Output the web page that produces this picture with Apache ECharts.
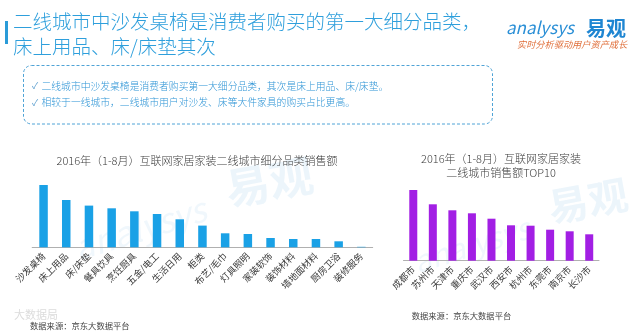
<!DOCTYPE html>
<html>
<head>
<meta charset="utf-8">
<script src="https://cdn.jsdelivr.net/npm/echarts@6/dist/echarts.min.js"></script>
<style>
html,body{margin:0;padding:0;background:#fff;}
#c{width:640px;height:332px;}
</style>
</head>
<body>
<div id="c"></div>
<script>
// ---- data ----
var categoryNames = ['沙发桌椅','床上用品','床/床垫','餐具饮具','烹饪厨具','五金/电工','生活日用','柜类','布艺/毛巾','灯具照明','家装软饰','装饰材料','墙地面材料','厨房卫浴','装修服务'];
var categorySales = [62.3, 47.3, 41.7, 39, 36, 33.3, 28, 21.7, 14, 13.3, 9.3, 8.3, 8.3, 6, 0.5];
var cityNames = ['成都市','苏州市','天津市','重庆市','武汉市','西安市','杭州市','东莞市','南京市','长沙市'];
var citySales = [70.7, 56.4, 50.4, 47.4, 42, 35.4, 35, 31, 29.4, 26.4];
var titleLines = ['二线城市中沙发桌椅是消费者购买的第一大细分品类，', '床上用品、床/床垫其次'];
var bulletLines = ['二线城市中沙发桌椅是消费者购买第一大细分品类，其次是床上用品、床/床垫。', '相较于一线城市，二线城市用户对沙发、床等大件家具的购买占比更高。'];
var leftChartTitle = '2016年（1-8月）互联网家居家装二线城市细分品类销售额';
var rightChartTitle = '2016年（1-8月）互联网家居家装\n二线城市销售额TOP10';
var sourceText = '数据来源：京东大数据平台';

var FONT = '"Noto Sans CJK SC", "Noto Sans", sans-serif';
var chart = echarts.init(document.getElementById('c'), null, {renderer: 'canvas'});

var graphics = [
  // watermarks
  {type:'text', x:222, y:168, rotation:0.18, z:0, style:{text:'易观', font:'bold 44px ' + FONT, fill:'rgba(160,205,235,0.2)'}},
  {type:'text', x:70, y:232, rotation:0.3, z:0, style:{text:'analysys', font:'italic 34px ' + FONT, fill:'rgba(160,205,235,0.16)'}},
  {type:'text', x:545, y:188, rotation:0.18, z:0, style:{text:'易观', font:'bold 40px ' + FONT, fill:'rgba(160,205,235,0.2)'}},
  {type:'text', x:410, y:248, rotation:0.3, z:0, style:{text:'analysys', font:'italic 30px ' + FONT, fill:'rgba(160,205,235,0.16)'}},
  // header
  {type:'rect', shape:{x:5, y:21, width:3, height:23}, style:{fill:'#2a9bd8'}},
  {type:'text', x:13, y:22, style:{text:titleLines[0], font:'300 19.5px ' + FONT, fill:'#2e9fdc', textVerticalAlign:'middle'}},
  {type:'text', x:13, y:47, style:{text:titleLines[1], font:'300 19.5px ' + FONT, fill:'#2e9fdc', textVerticalAlign:'middle'}},
  {type:'rect', shape:{x:23.5, y:65.5, width:469, height:58.5, r:8}, style:{fill:'none', stroke:'#4fa3d6', lineWidth:1, lineDash:[3,2]}},
  {type:'text', x:32, y:86, style:{text:'✓', font:'9px ' + FONT, fill:'#5c9fcf', textVerticalAlign:'middle'}},
  {type:'text', x:32, y:102.5, style:{text:'✓', font:'9px ' + FONT, fill:'#5c9fcf', textVerticalAlign:'middle'}},
  {type:'text', x:41.5, y:86, style:{text:bulletLines[0], font:'300 9.8px ' + FONT, fill:'#2f95d6', textVerticalAlign:'middle'}},
  {type:'text', x:41.5, y:102.5, style:{text:bulletLines[1], font:'300 9.8px ' + FONT, fill:'#2f95d6', textVerticalAlign:'middle'}},
  // logo
  {type:'text', x:506, y:28, style:{text:'analysys', font:'italic 17px ' + FONT, fill:'#2a8fd6', textVerticalAlign:'middle'}},
  {type:'text', x:586, y:28, style:{text:'易观', font:'bold 20px ' + FONT, fill:'#1f86d2', textVerticalAlign:'middle'}},
  {type:'text', x:517, y:44.5, style:{text:'实时分析驱动用户资产成长', font:'italic 9.2px ' + FONT, fill:'#e0703c', textVerticalAlign:'middle'}},
  // chart titles
  {type:'text', x:197, y:160.7, style:{text:leftChartTitle, font:'300 11px ' + FONT, fill:'#3c3c3c', textAlign:'center', textVerticalAlign:'middle'}},
  {type:'text', x:501, y:166, style:{text:rightChartTitle, font:'300 11px ' + FONT, fill:'#3c3c3c', textAlign:'center', textVerticalAlign:'middle', lineHeight:13.4}},
  // sources
  {type:'text', x:14, y:315, style:{text:'大数据局', font:'11px ' + FONT, fill:'#dcdcdc', textVerticalAlign:'middle'}},
  {type:'text', x:30, y:326, style:{text:sourceText, font:'8.3px ' + FONT, fill:'#444', textVerticalAlign:'middle'}},
  {type:'text', x:411.7, y:315.7, style:{text:sourceText, font:'8.3px ' + FONT, fill:'#444', textVerticalAlign:'middle'}}
];

var axisLabelStyle = {rotate:45, interval:0, margin:7, fontSize:9.3, color:'#3a3a3a', fontFamily:FONT};

chart.setOption({
  animation:false,
  backgroundColor:'#fff',
  graphic: graphics,
  grid:[
    {left:32.2, top:147.3, width:340.5, height:100},
    {left:403.5, top:160.7, width:195.5, height:100}
  ],
  xAxis:[
    {gridIndex:0, type:'category', data:categoryNames, axisTick:{show:false}, axisLine:{lineStyle:{color:'#b0b0b0', width:1}}, axisLabel:axisLabelStyle},
    {gridIndex:1, type:'category', data:cityNames, axisTick:{show:false}, axisLine:{lineStyle:{color:'#b0b0b0', width:1}}, axisLabel:axisLabelStyle}
  ],
  yAxis:[
    {gridIndex:0, type:'value', min:0, max:100, show:false, splitLine:{show:false}},
    {gridIndex:1, type:'value', min:0, max:100, show:false, splitLine:{show:false}}
  ],
  series:[
    {type:'bar', xAxisIndex:0, yAxisIndex:0, data:categorySales, barWidth:8.5, itemStyle:{color:'#1aa1e6'}},
    {type:'bar', xAxisIndex:1, yAxisIndex:1, data:citySales, barWidth:8, itemStyle:{color:'#a21fe4'}}
  ]
});
</script>
</body>
</html>
